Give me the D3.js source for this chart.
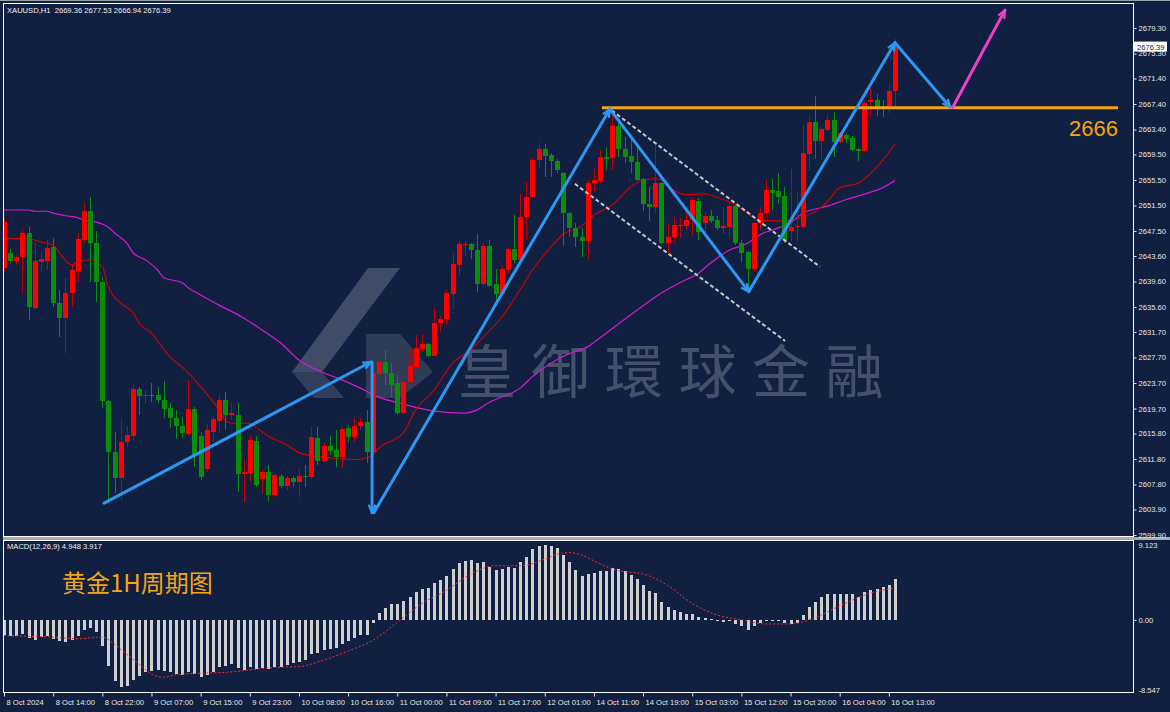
<!DOCTYPE html>
<html><head><meta charset="utf-8">
<script src="https://cdn.jsdelivr.net/npm/d3@7/dist/d3.min.js"></script>
<style>html,body{margin:0;padding:0;background:#111f40;}svg{display:block}</style>
</head><body><svg id="c" width="1170" height="712"></svg>
<script>
// ---------------- DATA ----------------
const header = "XAUUSD,H1  2669.36 2677.53 2666.94 2676.39";
const macdTitle = "MACD(12,26,9) 4.948 3.917";
const priceTicks = [2679.30,2675.30,2671.40,2667.40,2663.40,2659.50,2655.50,2651.50,2647.50,2643.60,2639.60,2635.60,2631.70,2627.70,2623.70,2619.70,2615.80,2611.80,2607.80,2603.90,2599.90];
const timeLabels = ["8 Oct 2024","8 Oct 14:00","8 Oct 22:00","9 Oct 07:00","9 Oct 15:00","9 Oct 23:00","10 Oct 08:00","10 Oct 16:00","11 Oct 00:00","11 Oct 09:00","11 Oct 17:00","12 Oct 01:00","14 Oct 11:00","14 Oct 19:00","15 Oct 03:00","15 Oct 12:00","15 Oct 20:00","16 Oct 04:00","16 Oct 13:00"];
const timeLabelBars = [0,8,16,24,32,40,48,56,64,72,80,88,96,104,112,120,128,136,144];
const macdTicks = [9.123, 0, -8.547];
const macdTickLabels = ["9.123","0.00","-8.547"];
const lastPrice = 2676.39;
const level = 2666.8;
const levelLabel = "2666";
const chartTitle = "黄金1H周期图";
const watermark = "皇御環球金融";

// [open, high, low, close] per hourly bar
const ohlc = [
[2641.7,2649.5,2641.1,2648.9],[2644.1,2644.7,2642.3,2642.8],[2642.8,2643.8,2642.2,2643.4],[2643.4,2647.8,2637.8,2647.2],
[2647.2,2648.1,2633.6,2635.6],[2635.5,2645.6,2635.1,2642.8],[2642.7,2644.2,2641.1,2643.1],[2642.8,2646.1,2641.4,2644.9],
[2645.0,2646.4,2635.6,2636.2],[2636.2,2638.3,2630.9,2633.9],[2633.9,2640.2,2628.4,2637.8],[2637.8,2642.2,2635.6,2641.4],
[2641.3,2647.2,2639.5,2646.3],[2646.1,2651.9,2645.6,2650.6],[2650.6,2652.8,2639.5,2645.6],[2645.6,2647.5,2636.4,2639.5],
[2639.5,2640.3,2619.8,2620.9],[2620.9,2621.1,2604.9,2612.9],[2612.9,2616.0,2606.5,2608.8],[2608.8,2618.1,2605.4,2614.5],
[2614.5,2617.0,2613.7,2615.6],[2615.4,2623.6,2614.8,2622.8],[2622.8,2623.1,2618.7,2621.7],[2621.7,2622.6,2620.6,2621.8],
[2621.8,2623.7,2620.7,2621.7],[2621.8,2623.1,2620.6,2621.1],[2621.1,2624.0,2618.2,2619.6],[2619.8,2620.6,2616.7,2618.2],
[2618.2,2619.5,2614.9,2617.0],[2617.0,2618.4,2615.1,2615.9],[2615.7,2624.2,2615.4,2619.6],[2619.6,2620.0,2610.6,2612.4],
[2615.4,2616.0,2608.5,2609.0],[2610.3,2617.3,2609.8,2616.4],[2616.0,2618.7,2614.5,2618.1],[2617.8,2621.8,2615.9,2621.1],
[2621.1,2622.3,2616.4,2618.7],[2618.7,2620.6,2617.9,2619.0],[2618.7,2620.6,2606.6,2609.5],[2609.5,2611.8,2605.1,2609.8],
[2609.6,2615.6,2608.2,2614.8],[2614.6,2615.4,2607.4,2607.7],[2608.7,2610.1,2606.3,2609.8],[2609.8,2610.9,2605.1,2606.2],
[2606.2,2609.6,2605.9,2609.3],[2609.2,2609.5,2607.3,2607.6],[2607.6,2609.2,2607.0,2608.8],[2608.8,2609.2,2607.4,2608.2],
[2608.2,2610.3,2605.9,2609.2],[2609.2,2610.9,2607.4,2609.0],[2609.0,2616.8,2608.7,2615.3],[2615.1,2616.8,2610.9,2611.5],
[2611.5,2614.3,2611.3,2613.9],[2613.9,2615.4,2612.4,2613.1],[2613.2,2616.3,2610.6,2612.1],[2612.1,2616.8,2610.4,2616.5],
[2616.7,2617.1,2614.5,2615.3],[2615.3,2618.4,2614.5,2617.0],[2617.0,2618.2,2616.4,2617.6],[2617.6,2619.5,2611.2,2612.9],
[2612.9,2626.9,2612.3,2625.3],[2625.1,2630.4,2623.4,2627.0],[2627.0,2628.9,2623.4,2625.3],[2625.3,2626.9,2621.5,2623.4],
[2623.7,2625.0,2618.7,2619.0],[2619.0,2626.2,2618.9,2623.9],[2623.9,2628.9,2623.4,2626.4],[2626.2,2631.2,2625.7,2629.2],
[2629.0,2631.4,2628.6,2629.8],[2629.8,2630.0,2627.8,2627.9],[2627.9,2635.6,2627.9,2633.1],[2633.1,2634.2,2631.7,2633.7],
[2633.7,2638.2,2632.8,2637.8],[2637.7,2644.1,2635.1,2642.4],[2642.2,2645.9,2640.5,2645.5],[2645.3,2645.9,2643.6,2645.5],
[2645.5,2645.6,2643.1,2644.5],[2644.5,2647.0,2638.0,2639.2],[2639.2,2645.6,2638.9,2645.2],[2645.2,2646.1,2638.7,2638.9],
[2639.2,2641.6,2636.2,2637.7],[2637.7,2642.0,2637.5,2641.6],[2641.4,2644.9,2640.9,2644.7],[2644.7,2650.0,2642.5,2643.0],
[2643.0,2653.3,2643.0,2649.7],[2649.7,2655.2,2646.3,2652.8],[2652.8,2659.0,2652.6,2658.6],[2658.6,2661.3,2657.5,2660.4],
[2660.4,2661.1,2656.0,2659.3],[2659.4,2659.7,2656.0,2658.5],[2658.5,2658.8,2656.6,2657.1],[2656.6,2656.8,2645.2,2650.3],
[2650.3,2650.5,2646.6,2648.0],[2648.0,2648.8,2645.0,2646.6],[2646.6,2648.0,2643.4,2645.9],[2645.9,2655.5,2643.0,2655.0],
[2655.0,2657.2,2653.6,2655.5],[2655.3,2660.2,2655.0,2659.1],[2659.1,2660.7,2657.1,2658.8],[2658.9,2666.3,2657.1,2664.0],
[2664.0,2664.4,2659.1,2660.4],[2660.4,2662.2,2658.2,2659.1],[2659.3,2661.9,2656.6,2658.3],[2658.3,2660.7,2655.3,2655.5],
[2655.7,2655.8,2650.7,2651.8],[2651.8,2654.4,2649.1,2651.3],[2651.3,2661.3,2650.3,2655.0],[2655.0,2655.2,2645.4,2645.6],
[2645.6,2648.8,2644.1,2646.6],[2646.6,2649.7,2645.6,2648.5],[2648.3,2649.6,2646.4,2648.5],[2648.3,2650.8,2647.7,2649.2],
[2649.2,2652.7,2646.7,2652.4],[2652.2,2652.7,2646.1,2647.4],[2648.8,2650.3,2647.4,2649.9],[2649.9,2650.8,2648.8,2649.1],
[2649.2,2649.9,2647.7,2648.0],[2648.0,2651.3,2647.0,2648.3],[2648.1,2651.9,2646.6,2651.4],[2651.4,2651.6,2645.3,2645.6],
[2645.6,2646.1,2642.7,2644.1],[2644.2,2644.3,2638.3,2641.6],[2641.6,2648.9,2641.1,2648.8],[2648.8,2651.3,2647.7,2650.3],
[2650.3,2655.5,2649.6,2653.9],[2653.9,2655.7,2650.8,2653.5],[2653.8,2656.6,2651.7,2652.8],[2653.0,2654.4,2645.6,2646.1],
[2647.5,2657.2,2645.9,2648.1],[2648.1,2653.5,2645.8,2648.3],[2648.1,2664.1,2647.8,2659.7],[2659.6,2665.4,2657.1,2664.6],
[2664.6,2668.7,2658.8,2661.6],[2661.6,2663.8,2658.8,2663.5],[2663.3,2665.7,2663.2,2664.9],[2664.9,2666.2,2659.1,2661.5],
[2661.5,2663.0,2661.3,2662.9],[2662.6,2662.9,2661.3,2661.9],[2662.1,2662.4,2660.0,2660.2],[2660.4,2660.5,2658.5,2660.0],
[2660.0,2667.7,2659.9,2667.6],[2667.7,2670.1,2665.4,2668.0],[2668.0,2669.0,2665.5,2666.9],[2667.1,2668.0,2665.4,2666.9],
[2666.9,2670.4,2666.0,2669.4],[2669.36,2677.53,2666.94,2676.39]
];

// moving averages: [bar, price]
const maFast = [[0,2646.4],[4,2646.3],[6,2645.8],[8,2645.3],[9,2644.1],[11,2642.2],[12,2642.7],[14,2643.0],[16,2641.9],[17,2638.7],[19,2636.2],[21,2634.7],[22,2633.1],[24,2631.5],[26,2629.0],[27,2627.8],[29,2626.2],[30,2625.3],[32,2623.1],[35,2619.5],[36,2617.9],[37,2617.4],[40,2617.4],[41,2616.8],[43,2615.4],[46,2614.0],[48,2612.8],[50,2612.3],[53,2612.0],[55,2611.8],[57,2611.7],[59,2612.0],[60,2612.4],[61,2613.5],[65,2615.9],[67,2619.5],[70,2622.6],[73,2626.8],[76,2628.9],[78,2630.9],[81,2634.0],[84,2638.3],[86,2641.4],[89,2645.0],[91,2647.0],[94,2648.3],[96,2650.0],[99,2651.6],[102,2654.4],[104,2655.5],[106,2655.7],[107,2655.5],[109,2653.9],[111,2653.2],[114,2653.3],[116,2652.8],[119,2651.6],[121,2650.3],[123,2649.2],[126,2649.1],[128,2649.2],[130,2649.7],[131,2650.0],[134,2652.1],[136,2654.3],[139,2655.0],[143,2658.6],[145,2661.1]];
const maSlow = [[0,2650.8],[4,2650.8],[5,2650.6],[7,2650.6],[8,2650.3],[10,2649.9],[12,2649.6],[13,2649.2],[15,2648.9],[17,2648.1],[18,2647.2],[20,2645.6],[21,2644.1],[23,2643.0],[25,2641.4],[26,2640.2],[29,2639.4],[30,2638.6],[32,2637.5],[35,2635.9],[39,2633.9],[42,2632.0],[45,2630.0],[48,2627.3],[52,2625.3],[55,2624.2],[58,2622.9],[61,2621.5],[65,2620.4],[70,2619.3],[75,2619.0],[77,2619.5],[79,2620.7],[81,2621.5],[84,2622.9],[86,2624.7],[89,2626.8],[92,2628.3],[95,2629.4],[97,2630.8],[103,2635.1],[107,2637.8],[110,2639.4],[113,2640.9],[115,2642.5],[118,2644.5],[121,2645.6],[123,2646.9],[126,2648.0],[128,2648.8],[130,2650.3],[134,2651.4],[137,2652.4],[139,2653.0],[143,2654.3],[145,2655.4]];

// MACD main (histogram) per bar, signal line [bar, value]
const macd = [-1.8,-2.0,-2.0,-1.7,-2.2,-2.4,-2.1,-2.0,-2.3,-2.6,-2.7,-2.5,-2.0,-1.2,-1.0,-1.5,-3.2,-5.6,-7.4,-8.2,
-8.0,-7.3,-6.8,-6.4,-6.2,-6.1,-6.2,-6.4,-6.6,-6.7,-6.3,-6.6,-7.0,-6.7,-6.3,-5.8,-5.6,-5.4,-5.9,-6.1,
-5.8,-6.0,-5.9,-6.0,-5.8,-5.7,-5.5,-5.3,-5.1,-4.9,-4.2,-4.0,-3.7,-3.5,-3.4,-2.9,-2.6,-2.2,-1.8,-1.9,
-0.4,0.8,1.5,1.9,1.9,2.3,2.8,3.4,3.8,3.9,4.5,4.8,5.4,6.2,6.9,7.2,7.3,6.9,7.0,6.5,
6.1,6.2,6.4,6.3,7.0,7.7,8.6,9.0,9.1,9.0,8.7,7.9,7.0,6.1,5.3,5.6,5.7,6.0,5.9,6.3,
6.2,5.9,5.5,5.0,4.2,3.5,3.3,2.2,1.6,1.2,0.9,0.7,0.7,0.3,0.2,0.1,-0.1,-0.2,-0.1,-0.5,
-0.8,-1.2,-0.7,-0.4,-0.1,-0.1,-0.1,-0.4,-0.5,-0.4,0.6,1.6,2.2,2.8,3.1,3.2,3.1,3.2,3.1,2.8,
3.4,3.7,3.8,4.0,4.3,4.948];
const signal = [[0,-1.9],[4,-2.0],[8,-2.1],[12,-2.3],[16,-2.1],[18,-3.0],[20,-4.2],[22,-5.4],[24,-6.6],[26,-7.0],[28,-6.7],[32,-6.5],[36,-6.4],[40,-6.1],[44,-5.8],[48,-5.7],[52,-4.9],[56,-3.8],[60,-2.5],[64,-0.3],[68,2.0],[72,3.6],[76,5.6],[80,6.6],[84,6.6],[88,7.4],[90,8.0],[92,8.2],[94,7.9],[96,7.2],[98,6.5],[100,6.0],[104,5.6],[108,4.2],[112,2.0],[116,0.6],[120,0.0],[124,-0.5],[128,-0.5],[132,0.3],[136,1.7],[140,3.0],[145,3.917]];

// analyst drawings: [bar, price] endpoints
const blueArrows = [[[16.3,2604.9],[59.7,2627.0]],[[59.9,2627.0],[59.9,2603.4]],[[60.2,2603.4],[98.6,2666.6]],[[98.6,2666.6],[121.2,2638.0]],[[121.2,2638.0],[145.0,2677.0]],[[145.0,2677.0],[154.0,2666.9]]];
const pinkArrow = [[154.4,2666.9],[162.9,2682.1]];
const channel = [[[98.9,2666.4],[132.8,2641.9]],[[92.9,2654.9],[127.1,2630.3]]];
const levelSpan = [97.3, 181.3];

// ---------------- DRAW ----------------
const svg = d3.select("#c");
const BG = "#111f40";
const L = 3, R = 1133, T = 4, MB = 536, ST = 540, SB = 692;
const x = d3.scaleLinear().domain([0,145]).range([4,895]);
const y = d3.scaleLinear().domain([2599.9,2679.3]).range([535,28]);
const ym = d3.scaleLinear().domain([-8.547,9.123]).range([690,545]);
const FONT = "'Liberation Sans', Arial, sans-serif";
const CJK = "'Noto Sans CJK SC','Noto Sans CJK TC',sans-serif";

svg.append("rect").attr("width",1170).attr("height",712).attr("fill",BG);
const defs = svg.append("defs");
defs.append("clipPath").attr("id","cm").append("rect").attr("x",L).attr("y",T).attr("width",R-L).attr("height",MB-T);
defs.append("clipPath").attr("id","cs").append("rect").attr("x",L).attr("y",ST).attr("width",R-L).attr("height",SB-ST);
function marker(id,color){
  defs.append("marker").attr("id",id).attr("viewBox","0 0 10 10").attr("refX",9).attr("refY",5)
    .attr("markerWidth",10).attr("markerHeight",10).attr("markerUnits","userSpaceOnUse").attr("orient","auto")
    .append("path").attr("d","M1,1.5 L9,5 L1,8.5").attr("fill","none").attr("stroke",color).attr("stroke-width",2.2);
}
const BLUE = "#2e97f2", PINK = "#ee3fc9", GOLD = "#f3a512";
marker("hb",BLUE); marker("hp",PINK);

// watermark
const wm = svg.append("g").attr("clip-path","url(#cm)");
wm.append("polygon").attr("points","368,268 400,268 322,372 292,372").attr("fill","#ffffff").attr("opacity",0.2);
wm.append("polygon").attr("points","292,372 322,372 344,398 314,398").attr("fill","#ffffff").attr("opacity",0.14);
wm.append("polygon").attr("points","366,334 400,334 433,372 400,398 366,398").attr("fill","#ffffff").attr("opacity",0.13);
wm.append("text").attr("x",458).attr("y",393).attr("font-family","'Noto Sans CJK TC','Noto Sans CJK SC',sans-serif")
  .attr("font-size",58).attr("letter-spacing",15.5).attr("fill","#ffffff").attr("opacity",0.22).text(watermark);

const main = svg.append("g").attr("clip-path","url(#cm)");
// MAs
const ln = d3.line().x(d=>x(d[0])).y(d=>y(d[1])).curve(d3.curveMonotoneX);
main.append("path").attr("d",ln(maSlow)).attr("fill","none").attr("stroke","#d21ad2").attr("stroke-width",1.2);
main.append("path").attr("d",ln(maFast)).attr("fill","none").attr("stroke","#d40000").attr("stroke-width",1.1);

// candles
const UP = "#ff0000", UPW = "#c40000", DN = "#0b8c0b";
const cg = main.append("g").attr("shape-rendering","crispEdges");
cg.selectAll("line").data(ohlc).join("line")
  .attr("x1",(d,i)=>Math.round(x(i))+0.5).attr("x2",(d,i)=>Math.round(x(i))+0.5)
  .attr("y1",d=>y(d[1])).attr("y2",d=>y(d[2]))
  .attr("stroke",d=>d[3]>=d[0]?UPW:DN).attr("stroke-width",1);
cg.selectAll("rect").data(ohlc).join("rect")
  .attr("x",(d,i)=>Math.round(x(i))-2).attr("width",5)
  .attr("y",d=>y(Math.max(d[0],d[3])))
  .attr("height",d=>Math.max(1,Math.abs(y(d[0])-y(d[3]))))
  .attr("fill",d=>d[3]>=d[0]?UP:DN);

// drawings
const pt = d=>[x(d[0]),y(d[1])];
channel.forEach(s=>{
  main.append("line").attr("x1",pt(s[0])[0]).attr("y1",pt(s[0])[1]).attr("x2",pt(s[1])[0]).attr("y2",pt(s[1])[1])
   .attr("stroke","#c8c8c8").attr("stroke-width",2).attr("stroke-dasharray","4,2.5");
});
main.append("line").attr("x1",x(levelSpan[0])).attr("x2",x(levelSpan[1])).attr("y1",y(level)).attr("y2",y(level))
  .attr("stroke",GOLD).attr("stroke-width",3);
blueArrows.forEach(s=>{
  main.append("line").attr("x1",pt(s[0])[0]).attr("y1",pt(s[0])[1]).attr("x2",pt(s[1])[0]).attr("y2",pt(s[1])[1])
   .attr("stroke",BLUE).attr("stroke-width",3).attr("stroke-linecap","round").attr("marker-end","url(#hb)");
});
main.append("line").attr("x1",pt(pinkArrow[0])[0]).attr("y1",pt(pinkArrow[0])[1]).attr("x2",pt(pinkArrow[1])[0]).attr("y2",pt(pinkArrow[1])[1])
  .attr("stroke",PINK).attr("stroke-width",3).attr("stroke-linecap","round").attr("marker-end","url(#hp)");
main.append("text").attr("x",x(levelSpan[1])).attr("y",y(level)+28).attr("text-anchor","end")
  .attr("font-family",FONT).attr("font-size",22).attr("fill",GOLD).text(levelLabel);

// MACD
const sub = svg.append("g").attr("clip-path","url(#cs)");
sub.append("g").attr("shape-rendering","crispEdges").selectAll("rect").data(macd).join("rect")
  .attr("x",(d,i)=>Math.round(x(i))-1).attr("width",3)
  .attr("y",d=>Math.min(ym(0),ym(d))).attr("height",d=>Math.max(1,Math.abs(ym(d)-ym(0))))
  .attr("fill","#cfcfcf");
sub.append("path").attr("d",d3.line().x(d=>x(d[0])).y(d=>ym(d[1])).curve(d3.curveMonotoneX)(signal))
  .attr("fill","none").attr("stroke","#ff2b2b").attr("stroke-width",1).attr("stroke-dasharray","2,2");

// texts
svg.append("text").attr("x",7).attr("y",13).attr("font-family",FONT).attr("font-size",7.6).attr("fill","#f0f0f0")
  .attr("xml:space","preserve").style("white-space","pre").text(header);
svg.append("text").attr("x",7).attr("y",549).attr("font-family",FONT).attr("font-size",7.6).attr("fill","#f0f0f0").text(macdTitle);
svg.append("text").attr("x",62).attr("y",592).attr("font-family",CJK).attr("font-size",24).attr("fill",GOLD).text(chartTitle);

// frames
const fr = svg.append("g").attr("shape-rendering","crispEdges");
fr.append("line").attr("x1",0).attr("x2",1170).attr("y1",0.5).attr("y2",0.5).attr("stroke","#9aa0a8");
fr.append("rect").attr("x",L+0.5).attr("y",T-0.5).attr("width",R-L).attr("height",MB-T+0.5).attr("fill","none").attr("stroke","#ffffff");
fr.append("rect").attr("x",L).attr("y",MB+1).attr("width",1170-L).attr("height",3).attr("fill","#a9adb3");
fr.append("rect").attr("x",L+0.5).attr("y",ST+0.5).attr("width",R-L).attr("height",SB-ST).attr("fill","none").attr("stroke","#ffffff");

// axes
function styleAxis(g){
  g.select(".domain").remove();
  g.selectAll(".tick line").attr("stroke","#e8e8e8");
  g.selectAll(".tick text").attr("fill","#e8e8e8").attr("font-family",FONT).attr("font-size",7.6);
}
const ay = svg.append("g").attr("transform",`translate(${R+0.5},0)`)
  .call(d3.axisRight(y).tickValues(priceTicks).tickFormat(d3.format(".2f")).tickSize(3).tickPadding(2));
styleAxis(ay);
const am = svg.append("g").attr("transform",`translate(${R+0.5},0)`)
  .call(d3.axisRight(ym).tickValues(macdTicks).tickFormat((d,i)=>macdTickLabels[i]).tickSize(3).tickPadding(2));
styleAxis(am);
am.selectAll(".tick line").attr("opacity",(d)=>d===0?1:0);
const ax = svg.append("g").attr("transform",`translate(0,${SB+0.5})`)
  .call(d3.axisBottom(x).tickValues(timeLabelBars).tickFormat((d,i)=>timeLabels[i]).tickSize(4).tickPadding(3));
styleAxis(ax);
ax.selectAll(".tick text").attr("text-anchor","start").attr("x",2);

// last price box
const lp = y(lastPrice);
svg.append("rect").attr("x",R+1).attr("y",lp-5).attr("width",33).attr("height",10).attr("fill","#ffffff");
svg.append("text").attr("x",R+4).attr("y",lp+3).attr("font-family",FONT).attr("font-size",7.6).attr("fill",BG).text(lastPrice.toFixed(2));
</script></body></html>
